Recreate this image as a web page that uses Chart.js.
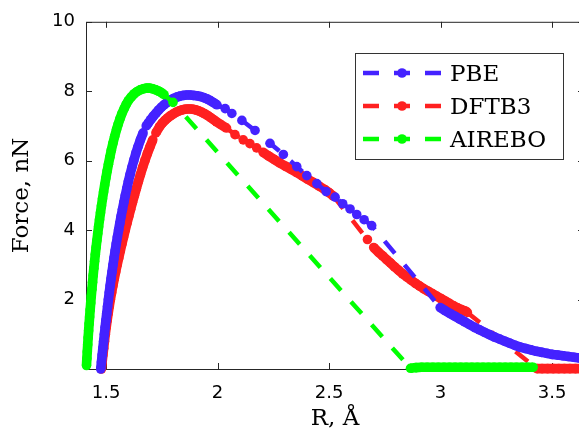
<!DOCTYPE html>
<html>
<head>
<meta charset="utf-8">
<script src="https://cdn.jsdelivr.net/npm/chart.js@4.4.1/dist/chart.umd.min.js"></script>
<style>
  html, body { margin: 0; padding: 0; background: #ffffff; overflow: hidden; }
  #wrap { width: 579px; height: 432px; overflow: hidden; position: relative; }
  canvas { position: absolute; left: 0; top: 0; }
</style>
</head>
<body>
<div id="wrap"><canvas id="c" width="590" height="432"></canvas></div>
<script>
// Series labels and colours
const seriesLabels = ['PBE', 'DFTB3', 'AIREBO'];
const seriesColors = ['#4422ff', '#ff2020', '#00ff00'];

// Axis ticks
const xTicks = [1.5, 2, 2.5, 3, 3.5];
const yTicks = [0, 2, 4, 6, 8, 10];

// PBE: bond length R (Å) and force (nN)
const pbeR = [
  1.4760, 1.4792, 1.4824, 1.4857, 1.4890, 1.4924, 1.4958, 1.4993, 1.5029, 1.5066,
  1.5104, 1.5143, 1.5183, 1.5224, 1.5267, 1.5311, 1.5357, 1.5405, 1.5455, 1.5507,
  1.5561, 1.5617, 1.5675, 1.5735, 1.5797, 1.5862, 1.5930, 1.6000, 1.6075, 1.6155,
  1.6240, 1.6330, 1.6430, 1.6540, 1.6660, 1.6800,
  1.690, 1.700, 1.712, 1.724, 1.736, 1.748, 1.760, 1.774, 1.788, 1.802,
  1.817, 1.832, 1.847, 1.862, 1.877, 1.892, 1.907, 1.922, 1.937, 1.952,
  1.967, 1.982, 1.997,
  2.034, 2.064, 2.109, 2.168, 2.235, 2.295, 2.355, 2.400, 2.445, 2.487,
  2.527, 2.561, 2.594, 2.624, 2.657, 2.691,
  2.998, 3.020, 3.042, 3.064, 3.086, 3.108, 3.130, 3.152, 3.174, 3.196,
  3.219, 3.242, 3.265, 3.288, 3.311, 3.334, 3.357, 3.381, 3.405, 3.429,
  3.453, 3.477, 3.501, 3.525, 3.549, 3.573, 3.597, 3.621, 3.645
];
const pbeF = [
  0.0, 0.2, 0.4, 0.6, 0.8, 1.0, 1.2, 1.4, 1.6, 1.8,
  2.0, 2.2, 2.4, 2.6, 2.8, 3.0, 3.2, 3.4, 3.6, 3.8,
  4.0, 4.2, 4.4, 4.6, 4.8, 5.0, 5.2, 5.4, 5.6, 5.8,
  6.0, 6.2, 6.4, 6.6, 6.8, 7.0,
  7.09, 7.18, 7.28, 7.37, 7.46, 7.54, 7.61, 7.68, 7.74, 7.79,
  7.83, 7.86, 7.88, 7.89, 7.89, 7.88, 7.87, 7.85, 7.82, 7.78,
  7.73, 7.67, 7.61,
  7.50, 7.36, 7.16, 6.87, 6.50, 6.18, 5.83, 5.57, 5.34, 5.11,
  4.95, 4.76, 4.61, 4.45, 4.30, 4.13,
  1.77, 1.68, 1.60, 1.52, 1.44, 1.36, 1.28, 1.20, 1.13, 1.06,
  0.99, 0.92, 0.86, 0.80, 0.74, 0.68, 0.63, 0.59, 0.55, 0.51,
  0.48, 0.45, 0.42, 0.40, 0.38, 0.36, 0.34, 0.32, 0.31
];

// DFTB3
const dftbR = [
  1.4790, 1.4823, 1.4857, 1.4892, 1.4928, 1.4965, 1.5005, 1.5048, 1.5093, 1.5141,
  1.5193, 1.5248, 1.5306, 1.5367, 1.5431, 1.5498, 1.5567, 1.5638, 1.5710, 1.5784,
  1.5860, 1.5938, 1.6018, 1.6100, 1.6184, 1.6270, 1.6358, 1.6447, 1.6540, 1.6637,
  1.6740, 1.6850, 1.6968, 1.7094, 1.7234, 1.7400,
  1.752, 1.764, 1.776, 1.788, 1.800, 1.813, 1.826, 1.839, 1.852, 1.865,
  1.878, 1.891, 1.904, 1.917, 1.930, 1.943, 1.956, 1.969, 1.982, 1.995,
  2.012, 2.040, 2.078, 2.115, 2.145, 2.175, 2.204, 2.230, 2.255, 2.280,
  2.305, 2.330, 2.355, 2.380, 2.405, 2.430, 2.455, 2.480, 2.500, 2.519,
  2.672, 2.700, 2.722, 2.740, 2.758, 2.776, 2.794, 2.812, 2.830, 2.849,
  2.868, 2.887, 2.906, 2.925, 2.944, 2.963, 2.982, 3.001, 3.020, 3.039,
  3.058, 3.076, 3.094, 3.110, 3.120,
  3.431, 3.455, 3.480, 3.505, 3.530, 3.555, 3.580, 3.605, 3.630, 3.655
];
const dftbF = [
  0.0, 0.2, 0.4, 0.6, 0.8, 1.0, 1.2, 1.4, 1.6, 1.8,
  2.0, 2.2, 2.4, 2.6, 2.8, 3.0, 3.2, 3.4, 3.6, 3.8,
  4.0, 4.2, 4.4, 4.6, 4.8, 5.0, 5.2, 5.4, 5.6, 5.8,
  6.0, 6.2, 6.4, 6.6, 6.8, 6.98,
  7.08, 7.16, 7.23, 7.29, 7.34, 7.39, 7.43, 7.46, 7.48, 7.49,
  7.49, 7.48, 7.46, 7.43, 7.39, 7.35, 7.30, 7.24, 7.18, 7.12,
  7.05, 6.94, 6.75, 6.60, 6.49, 6.37, 6.24, 6.13, 6.03, 5.93,
  5.84, 5.75, 5.66, 5.56, 5.46, 5.37, 5.27, 5.17, 5.08, 4.98,
  3.73, 3.50, 3.36, 3.26, 3.15, 3.05, 2.94, 2.84, 2.74, 2.65,
  2.56, 2.47, 2.39, 2.31, 2.24, 2.17, 2.10, 2.03, 1.96, 1.89,
  1.82, 1.76, 1.71, 1.67, 1.63,
  0.01, 0.01, 0.01, 0.01, 0.01, 0.01, 0.01, 0.01, 0.01, 0.01
];

// AIREBO
const aireboR = [
  1.4122, 1.4139, 1.4157, 1.4176, 1.4196, 1.4217, 1.4239, 1.4262, 1.4286, 1.4311,
  1.4337, 1.4365, 1.4393, 1.4422, 1.4452, 1.4484, 1.4517, 1.4552, 1.4588, 1.4626,
  1.4665, 1.4706, 1.4749, 1.4793, 1.4839, 1.4887, 1.4938, 1.4991, 1.5047, 1.5106,
  1.5168, 1.5234, 1.5306, 1.5385, 1.5470, 1.5542, 1.5620, 1.5705, 1.5812,
  1.590, 1.600, 1.612, 1.625, 1.639, 1.653, 1.667, 1.681, 1.695, 1.709,
  1.723, 1.737, 1.750, 1.760, 1.800,
  2.865, 2.890, 2.915, 2.940, 2.965, 2.990, 3.015, 3.040, 3.065, 3.090,
  3.115, 3.140, 3.165, 3.190, 3.215, 3.240, 3.265, 3.290, 3.315, 3.340,
  3.365, 3.390, 3.415
];
const aireboF = [
  0.1, 0.3, 0.5, 0.7, 0.9, 1.1, 1.3, 1.5, 1.7, 1.9,
  2.1, 2.3, 2.5, 2.7, 2.9, 3.1, 3.3, 3.5, 3.7, 3.9,
  4.1, 4.3, 4.5, 4.7, 4.9, 5.1, 5.3, 5.5, 5.7, 5.9,
  6.1, 6.3, 6.5, 6.7, 6.9, 7.05, 7.2, 7.35, 7.5,
  7.62, 7.73, 7.83, 7.92, 7.99, 8.04, 8.07, 8.09, 8.09, 8.07,
  8.04, 8.00, 7.95, 7.90, 7.68,
  0.02, 0.04, 0.05, 0.05, 0.05, 0.05, 0.05, 0.05, 0.05, 0.05,
  0.05, 0.05, 0.05, 0.05, 0.05, 0.05, 0.05, 0.05, 0.05, 0.05,
  0.05, 0.05, 0.05
];

const AXIS_COLOR = '#262626';
const TICK_LEN = 6;
const DASH = [16, 15];
const LINE_W = 4.5;
const DOT_R = 4.8;
const CLOSE_PX = 7.6;   // markers closer than this merge into a solid band
const SERIF = '"DejaVu Serif", serif';
const SANS = '"DejaVu Sans", sans-serif';

const toPoints = (rs, fs) => rs.map((r, i) => ({ x: r, y: fs[i] }));

// true when two neighbouring markers overlap on screen
const isClose = ctx => Math.hypot(ctx.p1.x - ctx.p0.x, ctx.p1.y - ctx.p0.y) < CLOSE_PX;

function series(idx, rs, fs, order) {
  const c = seriesColors[idx];
  return {
    label: seriesLabels[idx],
    data: toPoints(rs, fs),
    order: order,
    borderColor: c,
    backgroundColor: c,
    borderWidth: LINE_W,
    borderDash: DASH,
    borderCapStyle: 'butt',
    borderJoinStyle: 'round',
    tension: 0,
    pointRadius: DOT_R,
    pointHoverRadius: DOT_R,
    pointBorderWidth: 0,
    pointBackgroundColor: c,
    clip: false,
    segment: {
      borderWidth: ctx => (isClose(ctx) ? DOT_R * 2 : undefined),
      borderDash: ctx => (isClose(ctx) ? [] : undefined)
    }
  };
}

// Box around the plot with inward tick marks on all four sides
const framePlugin = {
  id: 'frame',
  beforeDatasetsDraw(chart) {
    const { ctx, chartArea: a, scales: { x, y } } = chart;
    ctx.save();
    ctx.strokeStyle = AXIS_COLOR;
    ctx.lineWidth = 1;
    ctx.setLineDash([]);
    ctx.strokeRect(a.left + 0.5, a.top + 0.5, a.right - a.left, a.bottom - a.top);
    ctx.beginPath();
    x.ticks.forEach(t => {
      const px = Math.round(x.getPixelForValue(t.value)) + 0.5;
      ctx.moveTo(px, a.bottom); ctx.lineTo(px, a.bottom - TICK_LEN);
      ctx.moveTo(px, a.top); ctx.lineTo(px, a.top + TICK_LEN);
    });
    y.ticks.forEach(t => {
      const py = Math.round(y.getPixelForValue(t.value)) + 0.5;
      ctx.moveTo(a.left, py); ctx.lineTo(a.left + TICK_LEN, py);
      ctx.moveTo(a.right, py); ctx.lineTo(a.right - TICK_LEN, py);
    });
    ctx.stroke();
    ctx.restore();
  }
};

// Boxed legend in the upper right of the plot: dash - dot - dash samples
const legendPlugin = {
  id: 'boxLegend',
  afterDatasetsDraw(chart) {
    const { ctx } = chart;
    const box = { x: 355, y: 53, w: 208, h: 106 };
    ctx.save();
    ctx.fillStyle = '#ffffff';
    ctx.fillRect(box.x, box.y, box.w, box.h);
    ctx.strokeStyle = '#333333';
    ctx.lineWidth = 1;
    ctx.strokeRect(box.x + 0.5, box.y + 0.5, box.w, box.h);
    chart.data.datasets.forEach((ds, i) => {
      const cy = 73 + i * 33;
      ctx.strokeStyle = ds.borderColor;
      ctx.lineWidth = LINE_W;
      ctx.lineCap = 'butt';
      ctx.setLineDash(DASH);
      ctx.beginPath();
      ctx.moveTo(363, cy);
      ctx.lineTo(441, cy);
      ctx.stroke();
      ctx.setLineDash([]);
      ctx.fillStyle = ds.borderColor;
      ctx.beginPath();
      ctx.arc(402, cy, DOT_R, 0, Math.PI * 2);
      ctx.fill();
      ctx.fillStyle = '#000000';
      ctx.font = '23px ' + SERIF;
      ctx.textBaseline = 'alphabetic';
      ctx.textAlign = 'left';
      ctx.fillText(ds.label, 450, cy + 8);
    });
    ctx.restore();
  }
};

new Chart(document.getElementById('c'), {
  type: 'line',
  data: {
    datasets: [
      series(0, pbeR, pbeF, 1),
      series(1, dftbR, dftbF, 2),
      series(2, aireboR, aireboF, 0)
    ]
  },
  options: {
    responsive: false,
    animation: false,
    events: [],
    layout: { padding: { top: 21, right: 6, left: 0, bottom: 0 } },
    plugins: { legend: { display: false }, tooltip: { enabled: false } },
    scales: {
      x: {
        type: 'linear',
        min: 1.41,
        max: 3.643,
        grid: { display: false, drawTicks: false },
        border: { display: false },
        afterBuildTicks: s => { s.ticks = xTicks.map(v => ({ value: v })); },
        afterFit: s => { s.height = 63; },
        ticks: {
          padding: 14,
          color: '#000000',
          font: { family: SANS, size: 18 },
          maxRotation: 0,
          callback: v => String(v)
        },
        title: {
          display: true,
          text: 'R, Å',
          color: '#000000',
          font: { family: SERIF, size: 23, lineHeight: 1 },
          padding: { top: 0, bottom: 1 }
        }
      },
      y: {
        type: 'linear',
        min: 0,
        max: 10,
        grid: { display: false, drawTicks: false },
        border: { display: false },
        afterBuildTicks: s => { s.ticks = yTicks.map(v => ({ value: v })); },
        afterFit: s => { s.width = 86; },
        ticks: {
          padding: 11,
          color: '#000000',
          font: { family: SANS, size: 18 },
          callback: v => (v === 0 ? '' : String(v))
        },
        title: {
          display: true,
          text: 'Force, nN',
          color: '#000000',
          font: { family: SERIF, size: 23, lineHeight: 1 },
          padding: { top: 11, bottom: 0 }
        }
      }
    }
  },
  plugins: [framePlugin, legendPlugin]
});
</script>
</body>
</html>
